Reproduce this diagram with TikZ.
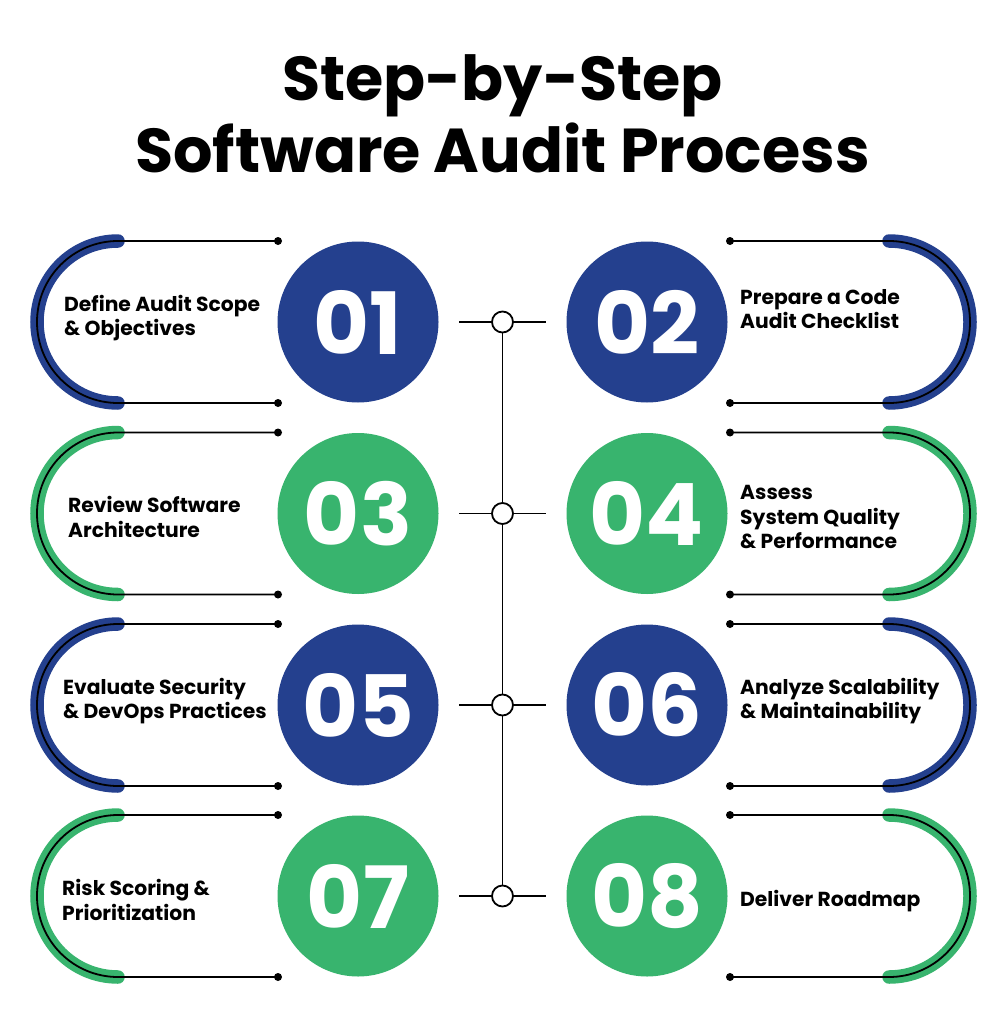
\documentclass[tikz,border=0pt]{standalone}
\usepackage{fontspec}
\setmainfont{Poppins}
\usetikzlibrary{backgrounds}
\definecolor{cblue}{HTML}{24408E}
\definecolor{cgreen}{HTML}{38B46E}
\begin{document}
\begin{tikzpicture}[x=1pt,y=-1pt,
  band/.style={line width=13.5pt, line cap=round, draw=#1},
  rim/.style={line width=1.8pt, draw=black},
  dotnode/.style={circle, fill=black, inner sep=0pt, minimum size=8pt},
  numnode/.style={circle, fill=#1, minimum size=161pt, inner sep=0pt, text=white,
    font=\fontsize{86}{86}\selectfont\bfseries},
  hub/.style={circle, draw=black, fill=white, line width=1.8pt, minimum size=21pt, inner sep=0pt},
  link/.style={line width=1.8pt, draw=black},
  lbl/.style={anchor=west, align=left, inner sep=0pt, font=\fontsize{20.3}{24.5}\selectfont\bfseries},
  ttl/.style={anchor=base, inner sep=0pt, font=\fontsize{62}{62}\selectfont\bfseries},
]
\begin{scope}[on background layer]
  \fill[white] (0,0) rectangle (1005,1024);
\end{scope}
\useasboundingbox (0,0) rectangle (1005,1024);

% title
\node[ttl] (t1) at (502.5,101) {Step-by-Step};
\node[ttl] (t2) at (502.5,173) {Software Audit Process};

% left rows
\foreach \i/\y/\col/\num in {1/322/cblue/01, 3/513.5/cgreen/03, 5/705/cblue/05, 7/896/cgreen/07}{
  \draw[band=\col] (118,\y-81) arc[start angle=270, end angle=90, radius=81];
  \node[dotnode] (la\i) at (278,\y-81) {};
  \node[dotnode] (lb\i) at (278,\y+81) {};
  \draw[rim] (la\i.center) -- (118,\y-81) arc[start angle=270, end angle=90, radius=81] -- (lb\i.center);
  \node[numnode=\col] (c\i) at (358,\y) {\num};
}
% right rows
\foreach \i/\y/\col/\num in {2/322/cblue/02, 4/513.5/cgreen/04, 6/705/cblue/06, 8/896/cgreen/08}{
  \draw[band=\col] (889,\y-81) arc[start angle=270, end angle=450, radius=81];
  \node[dotnode] (ra\i) at (730,\y-81) {};
  \node[dotnode] (rb\i) at (730,\y+81) {};
  \draw[rim] (ra\i.center) -- (889,\y-81) arc[start angle=270, end angle=450, radius=81] -- (rb\i.center);
  \node[numnode=\col] (c\i) at (647,\y) {\num};
}

% hubs
\foreach \k/\y in {1/322, 2/513.5, 3/705, 4/896}{
  \node[hub] (h\k) at (502.5,\y) {};
  \coordinate (hl\k) at (459,\y);
  \coordinate (hr\k) at (546,\y);
  \draw[link] (hl\k) -- (h\k) -- (hr\k);
}
\begin{scope}[on background layer]
  \draw[link] (h1.center) -- (h4.center);
\end{scope}

% labels
\node[lbl] (l1) at (64,318) {Define Audit Scope\\\& Objectives};
\node[lbl] (l3) at (68,517) {Review Software\\Architecture};
\node[lbl] (l5) at (63,701) {Evaluate Security\\\& DevOps Practices};
\node[lbl] (l7) at (62,900) {Risk Scoring \&\\Prioritization};
\node[lbl] (l2) at (740,309) {Prepare a Code\\Audit Checklist};
\node[lbl] (l4) at (740,517) {Assess\\System Quality\\\& Performance};
\node[lbl] (l6) at (740,701) {Analyze Scalability\\\& Maintainability};
\node[lbl] (l8) at (740,901) {Deliver Roadmap};
\end{tikzpicture}
\end{document}
